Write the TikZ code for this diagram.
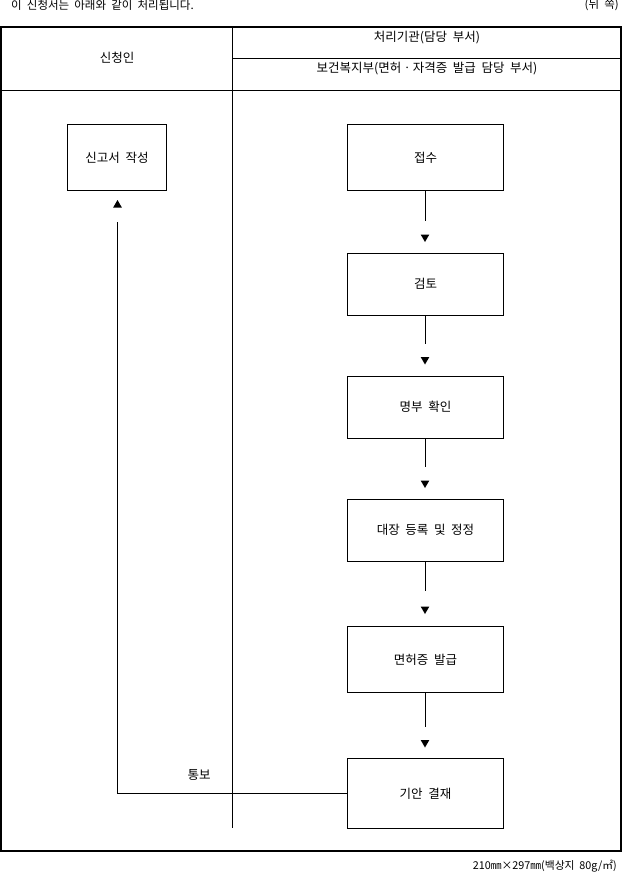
\documentclass[tikz,border=0pt]{standalone}
\usepackage{fontspec}
\setmainfont[WordSpace=2]{Noto Sans CJK KR}
\usetikzlibrary{shapes.geometric}
\begin{document}
\begin{tikzpicture}[x=1pt,y=-1pt,
  thin line/.style={line width=1pt},
  frame line/.style={line width=2pt},
  procbox/.style={draw,line width=1pt,anchor=north west,inner sep=0pt},
  label text/.style={font=\fontsize{12.5}{14}\selectfont,inner sep=0pt},
  tridown/.style={regular polygon,regular polygon sides=3,shape border rotate=180,fill=black,draw=none,inner sep=0pt,minimum size=10pt},
  triup/.style={regular polygon,regular polygon sides=3,fill=black,draw=none,inner sep=0pt,minimum size=10pt}]
\useasboundingbox (0,0) rectangle (622,873);
% top texts
\node[label text,anchor=west,font=\fontsize{11.5}{13}\selectfont] (title) at (11,5) {이 신청서는 아래와 같이 처리됩니다.};
\node[label text,anchor=east,font=\fontsize{11.5}{13}\selectfont] (side) at (619,5) {(뒤 쪽)};
% frame
\draw[frame line] (1,26.5) rectangle (621,850.7);
\draw[thin line] (1,90) -- (621,90);
\draw[thin line] (232.5,58.5) -- (621,58.5);
\draw[thin line] (232.5,26.5) -- (232.5,827.5);
% header texts
\node[label text] (applicant) at (117,58) {신청인};
\node[label text] (org) at (427,38) {처리기관(담당 부서)};
\node[label text] (dept) at (427,69) {보건복지부(면허ㆍ자격증 발급 담당 부서)};
% boxes
\node[procbox,minimum width=99pt,minimum height=66pt] (write) at (67,124) {};
\node[label text] at (write.center) {신고서 작성};
\node[procbox,minimum width=156pt,minimum height=66pt] (b1) at (347,124) {};
\node[label text] at (b1.center) {접수};
\node[procbox,minimum width=156pt,minimum height=62pt] (b2) at (347,252.5) {};
\node[label text] at (b2.center) {검토};
\node[procbox,minimum width=156pt,minimum height=62pt] (b3) at (347,375.5) {};
\node[label text] at (b3.center) {명부 확인};
\node[procbox,minimum width=156pt,minimum height=62pt] (b4) at (347,498.5) {};
\node[label text] at (b4.center) {대장 등록 및 정정};
\node[procbox,minimum width=156pt,minimum height=66pt] (b5) at (347,626) {};
\node[label text] at (b5.center) {면허증 발급};
\node[procbox,minimum width=156pt,minimum height=70pt] (b6) at (347,758) {};
\node[label text] at (b6.center) {기안 결재};
% connectors down
\coordinate (e1) at (425,221);
\coordinate (e2) at (425,344);
\coordinate (e3) at (425,467);
\coordinate (e4) at (425,591);
\coordinate (e5) at (425,727);
\draw[thin line] (b1.south) -- (b1.south |- e1);
\draw[thin line] (b2.south) -- (b2.south |- e2);
\draw[thin line] (b3.south) -- (b3.south |- e3);
\draw[thin line] (b4.south) -- (b4.south |- e4);
\draw[thin line] (b5.south) -- (b5.south |- e5);
\node[tridown] (t1) at (425,237) {};
\node[tridown] (t2) at (425,359.5) {};
\node[tridown] (t3) at (425,483) {};
\node[tridown] (t4) at (425,609) {};
\node[tridown] (t5) at (425,742.5) {};
% feedback connector
\coordinate (c1) at (117.5,793);
\coordinate (c2) at (117.5,222);
\draw[thin line] (b6.west |- c1) -- (c1) -- (c2);
\node[triup] (tu) at (117.5,205) {};
\node[label text] (notify) at (199,775) {통보};
% bottom note
\node[label text,anchor=east,font=\fontsize{10.8}{12}\selectfont] (size) at (617,866) {210㎜×297㎜(백상지 80g/㎡)};
\end{tikzpicture}
\end{document}
